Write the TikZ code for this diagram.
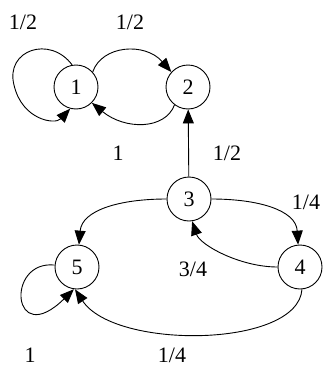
\documentclass[tikz,border=0pt]{standalone}
\usepackage{fontspec}
\setmainfont{Liberation Serif}
\usetikzlibrary{arrows.meta}
\begin{document}
\begin{tikzpicture}[x=1pt,y=-1pt,
  state/.style={circle,draw,line width=0.9pt,minimum size=44pt,inner sep=0pt,font=\fontsize{22}{24}\selectfont},
  lbl/.style={inner sep=0pt,font=\fontsize{22}{24}\selectfont},
  edge/.style={line width=0.9pt,-{Triangle[length=14pt,width=11pt]}}]
\useasboundingbox (0,0) rectangle (323,367);
\node[state] (n1) at (76,87) {1};
\node[state] (n2) at (188,87) {2};
\node[state] (n3) at (189,199) {3};
\node[state] (n4) at (300,267) {4};
\node[state] (n5) at (77,267) {5};
\node[lbl] (l11) at (23,22) {1/2};
\node[lbl] (l12) at (130,22) {1/2};
\node[lbl] (l21) at (118,153) {1};
\node[lbl] (l32) at (227,153) {1/2};
\node[lbl] (l34) at (306,202) {1/4};
\node[lbl] (l43) at (193,269) {3/4};
\node[lbl] (l55) at (30,355) {1};
\node[lbl] (l45) at (172,355) {1/4};
% self loop 1
\draw[edge] (n1.100) .. controls (50,35) and (5,50) .. (14,85) .. controls (22,120) and (55,125) .. (n1.255);
% 1 -> 2
\draw[edge] (n1.42) .. controls (102,45) and (145,42) .. (n2.138);
% 2 -> 1
\draw[edge] (n2.233) .. controls (165,130) and (125,130) .. (n1.315);
% 3 -> 2
\draw[edge] (n3) -- (n2);
% 3 -> 5
\draw[edge] (n3.west) .. controls (120,199) and (82,210) .. (n5.85);
% 3 -> 4
\draw[edge] (n3.east) .. controls (258,199) and (296,210) .. (n4.95);
% 4 -> 3
\draw[edge] (n4.west) .. controls (240,267) and (200,245) .. (n3.278);
% 4 -> 5
\draw[edge] (n4.275) .. controls (298,348) and (115,350) .. (n5.265);
% self loop 5
\draw[edge] (n5.175) .. controls (5,260) and (12,350) .. (n5.262);
\end{tikzpicture}
\end{document}
